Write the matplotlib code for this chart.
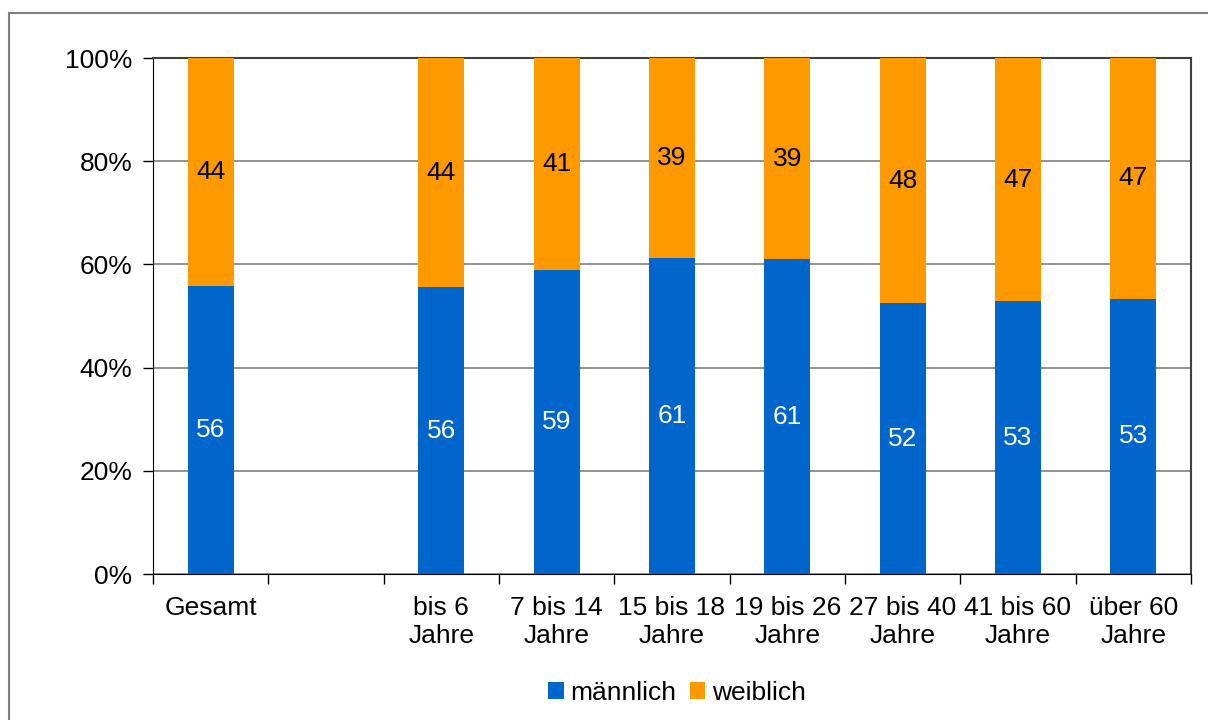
import matplotlib.pyplot as plt
from matplotlib.patches import Rectangle
import numpy as np

plt.rcParams["font.family"] = ["Liberation Sans", "DejaVu Sans"]

# categories (the second slot is empty in the original chart)
categories = ["Gesamt", "", "bis 6\nJahre", "7 bis 14\nJahre", "15 bis 18\nJahre",
              "19 bis 26\nJahre", "27 bis 40\nJahre", "41 bis 60\nJahre", "über 60\nJahre"]
maennlich = [55.8, np.nan, 55.6, 58.9, 61.2, 61.0, 52.5, 52.9, 53.3]
weiblich = [44.2, np.nan, 44.4, 41.1, 38.8, 39.0, 47.5, 47.1, 46.7]
labels_m = ["56", "", "56", "59", "61", "61", "52", "53", "53"]
labels_w = ["44", "", "44", "41", "39", "39", "48", "47", "47"]

blue = "#0066CC"
orange = "#FF9900"
fs = 19

fig = plt.figure(figsize=(12.08, 7.2), dpi=100)
ax = fig.add_axes([153 / 1208, 1 - 574 / 720, (1191 - 153) / 1208, (574 - 58) / 720])

# outer chart frame
fig.patches.append(Rectangle((9 / 1208, -0.1), 1.2, 1 - 13 / 720 + 0.1,
                             transform=fig.transFigure, fill=False,
                             edgecolor="#808080", linewidth=1.5))

x = np.arange(len(categories))
m = np.nan_to_num(maennlich)
w = np.nan_to_num(weiblich)
bm = ax.bar(x, m, width=0.4, color=blue, label="männlich", zorder=3)
bw = ax.bar(x, w, width=0.4, bottom=m, color=orange, label="weiblich", zorder=3)

for i in range(len(categories)):
    if labels_m[i]:
        ax.text(x[i], m[i] / 2, labels_m[i], ha="center", va="center",
                color="white", fontsize=fs, zorder=4)
        ax.text(x[i], m[i] + w[i] / 2, labels_w[i], ha="center", va="center",
                color="black", fontsize=fs, zorder=4)

ax.set_xlim(-0.5, len(categories) - 0.5)
ax.set_ylim(0, 100)
ax.set_yticks(np.arange(0, 101, 20))
ax.set_yticklabels([f"{v}%" for v in range(0, 101, 20)], fontsize=fs)
ax.yaxis.grid(True, color="#808080", linewidth=1.2, zorder=0)
ax.tick_params(axis="y", length=7, width=1, pad=8)

ax.set_xticks(np.arange(-0.5, len(categories) + 0.5, 1), minor=False)
ax.set_xticklabels([])
ax.set_xticks(x, minor=True)
ax.set_xticklabels(categories, minor=True, fontsize=fs, linespacing=1.2)
ax.tick_params(axis="x", which="major", length=7, width=1, direction="out")
ax.tick_params(axis="x", which="minor", length=0, pad=16)

for side in ["left", "bottom"]:
    ax.spines[side].set_color("black")
for side in ["top", "right"]:
    ax.spines[side].set_color("#404040")
    ax.spines[side].set_linewidth(1.5)

fig.legend(handles=[bm, bw], loc="center", bbox_to_anchor=(677 / 1208, 1 - 693 / 720),
           ncol=2, frameon=False, fontsize=fs, handlelength=0.6, handleheight=0.6,
           handletextpad=0.25, columnspacing=0.5)

fig.savefig("out.png", dpi=100)
